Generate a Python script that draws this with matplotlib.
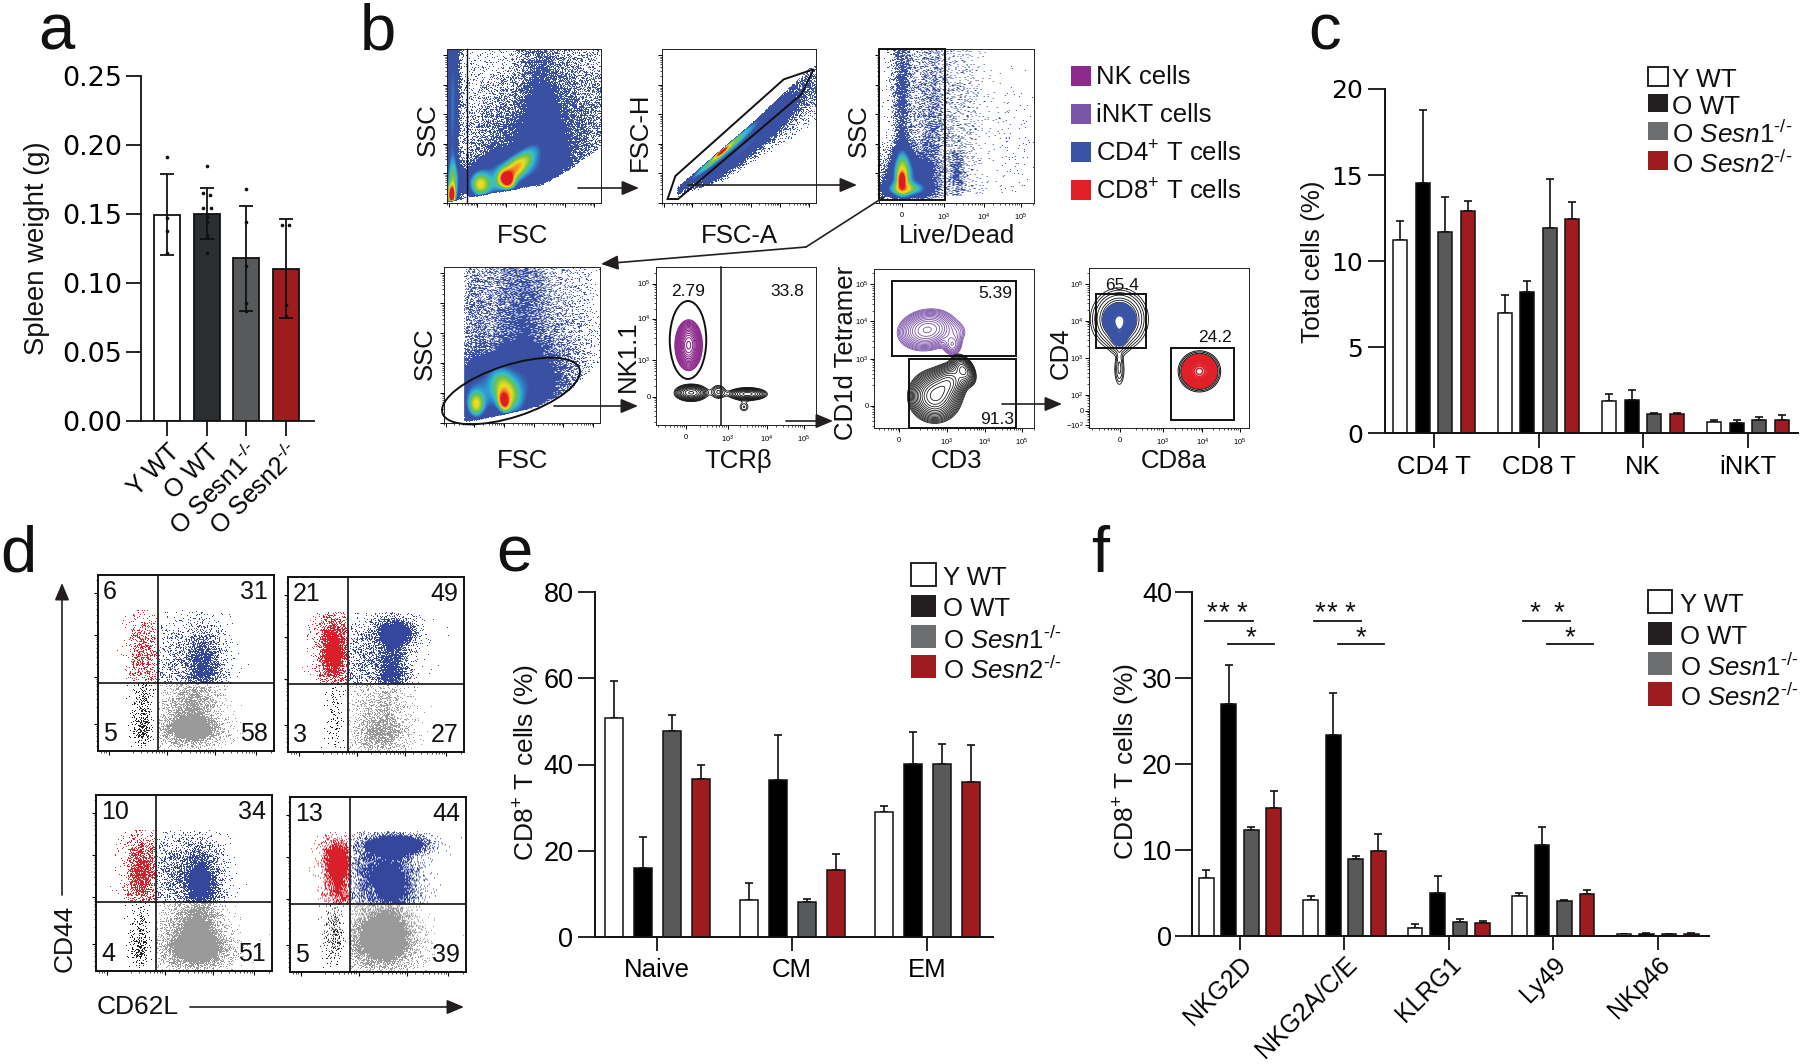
import numpy as np
import matplotlib
matplotlib.use('Agg')
import matplotlib.pyplot as plt
from matplotlib.colors import LinearSegmentedColormap, to_rgb
from matplotlib.patches import Rectangle, Ellipse, Polygon

W, H = 1800, 1064
plt.rcParams['font.family'] = ['Liberation Sans', 'DejaVu Sans']
plt.rcParams['mathtext.fontset'] = 'custom'
plt.rcParams['mathtext.rm'] = 'Liberation Sans'
plt.rcParams['mathtext.it'] = 'Liberation Sans:italic'
plt.rcParams['mathtext.bf'] = 'Liberation Sans:bold'
plt.rcParams['mathtext.default'] = 'regular'

HY = '\u2010'
SUP = '$^{\\mathit{' + HY + '/' + HY + '}}$'

# ---------------- bar data ----------------
GROUP_COLORS = ['#ffffff', '#000000', '#58595b', '#9e1b20']
A_COLORS = ['#ffffff', '#2b2e31', '#58595b', '#9e1b20']
LEGEND_COLORS = ['#ffffff', '#231f20', '#6d6e70', '#9e1b20']

a_labels = ['Y WT', 'O WT', 'O Sesn1' + SUP, 'O Sesn2' + SUP]
a_means = [0.149, 0.150, 0.118, 0.110]
a_err_hi = [0.179, 0.169, 0.156, 0.1465]
a_err_lo = [0.120, 0.132, 0.080, 0.075]
a_pts_group = [0, 0, 0, 0, 1, 1, 1, 1, 1, 1, 1, 1, 1, 1, 2, 2, 2, 2, 2, 3, 3, 3, 3]
a_pts_shift = [0, 0, 0, 0, 0, -.09, .09, -.1, .1, 0, 0, 0, 0, 0, 0, 0, 0, 0, 0, -.1, .08, 0, 0]
a_pts_value = [.191, .147, .138, .122, .185, .165, .1635, .1545, .1545, .148, .1445, .135, .133, .1215,
               .168, .1445, .112, .0855, .0795, .142, .142, .084, .076]

c_cats = ['CD4 T', 'CD8 T', 'NK', 'iNKT']
c_means = [[11.2, 7.0, 1.9, 0.65], [14.55, 8.2, 1.95, 0.6], [11.7, 11.95, 1.1, 0.8], [12.9, 12.45, 1.1, 0.8]]
c_tops = [[12.35, 8.05, 2.3, 0.8], [18.8, 8.85, 2.5, 0.75], [13.75, 14.8, 1.2, 0.95], [13.5, 13.45, 1.2, 1.05]]

e_cats = ['Naive', 'CM', 'EM']
e_means = [[50.7, 8.6, 29.0], [16.0, 36.3, 40.1], [47.8, 8.1, 40.1], [36.6, 15.5, 35.9]]
e_tops = [[59.3, 12.5, 30.4], [23.3, 46.9, 47.6], [51.4, 8.8, 44.8], [39.8, 19.3, 44.5]]

f_cats = ['NKG2D', 'NKG2A/C/E', 'KLRG1', 'Ly49', 'NKp46']
f_means = [[6.7, 4.1, 0.9, 4.65, 0.15], [27.0, 23.3, 5.0, 10.5, 0.25], [12.3, 8.9, 1.6, 4.0, 0.15], [14.9, 9.8, 1.45, 4.8, 0.25]]
f_tops = [[7.6, 4.65, 1.35, 5.0, 0.2], [31.5, 28.2, 7.0, 12.6, 0.3], [12.6, 9.3, 1.95, 4.1, 0.2], [16.8, 11.8, 1.7, 5.3, 0.3]]

legend_it = ['Y WT', 'O WT', 'O $\\mathit{Sesn1}$' + SUP, 'O $\\mathit{Sesn2}$' + SUP]
b_legend = ['NK cells', 'iNKT cells', 'CD4$^{+}$ T cells', 'CD8$^{+}$ T cells']
b_legend_colors = ['#8e2a8e', '#7a55a8', '#3a53a4', '#e01f26']

# ---------------- cytometry density sketches: (u, v, sigma_u, sigma_v, angle, height) ----------------
FSC_SSC = [(.035, .6, .022, .45, 0, .28), (.06, .8, .03, .3, 0, .07), (.03, .05, .015, .04, 0, 1.0), (.04, .14, .03, .1, 0, .35),
           (.215, .115, .045, .055, 0, .55), (.39, .15, .028, .037, 25, .8), (.44, .22, .12, .04, 46, .5),
           (.4, .2, .2, .08, 10, .28), (.6, .75, .09, .35, 0, .09), (.85, .6, .2, .35, 0, .06),
           (.3, .5, .12, .35, 0, .03), (.55, .4, .25, .2, 0, .09)]
FSC_SSC_FLOOR = [(0, 0), (.15, .03), (.3, .06), (.63, .115), (.8, .21), (1, .36)]
FSC_H = [(.38, .32, .2, .018, 41, .55), (.39, .335, .035, .008, 41, .6), (.72, .6, .3, .1, 40, .13), (.5, .33, .25, .04, 40, .24)]
FSC_H_FLOOR = [(.1, .02), (.125, .05), (.42, .147), (.66, .3), (1, .516)]
FSC_H_CEIL = [(0, .03), (.125, .126), (.603, .538), (.976, .896), (1, .9)]
LIVE_DEAD = [(.15, .7, .04, .4, 0, .12), (.148, .147, .014, .03, 0, .85), (.15, .2, .035, .1, 0, .45), (.17, .09, .09, .03, 0, .4),
             (.18, .17, .1, .1, 0, .25), (.34, .5, .07, .45, 0, .08), (.5, .2, .03, .1, 0, .09),
             (.55, .5, .07, .4, 0, .025), (.85, .35, .1, .25, 0, .006)]
LIVE_DEAD_FLOOR = [(0, .02), (.05, .025), (.3, .02), (.45, .04), (1, .08)]
SSC_GATED = [(.2, .7, .07, .35, 0, .07), (.52, .7, .1, .4, 0, .11), (.36, .7, .05, .4, 0, .05), (.8, .6, .1, .35, 0, .035),
             (.383, .138, .022, .038, 10, .75), (.4, .2, .05, .09, 25, .4), (.204, .117, .035, .055, 0, .5),
             (.3, .2, .2, .13, 0, .28), (.55, .3, .2, .15, 0, .1)]
SSC_GATED_FLOOR = [(.13, 0), (.3, .03), (.6, .1), (.8, .2), (1, .4)]

NK_PURPLE = [(.204, .505, .04, .075, 0, 1)]
NK_BLACK = [(.22, .204, .05, .026, 0, 1), (.572, .196, .06, .02, 0, .85), (.55, .115, .025, .025, 0, .16), (.39, .21, .03, .03, 0, .25)]
TET_PURPLE = [(.333, .617, .08, .055, 10, 1), (.49, .523, .03, .035, 0, .3), (.52, .6, .04, .04, 0, .1)]
TET_BLACK = [(.38, .2, .07, .07, 35, 1), (.56, .366, .03, .05, 30, .5), (.47, .29, .06, .05, 45, .6)]
CD4_BLUE = [(.19, .677, .05, .05, 0, 1), (.19, .6, .03, .05, 0, .5)]
CD4_BLACK = [(.19, .68, .065, .07, 0, 1), (.19, .58, .03, .05, 0, .4), (.19, .365, .016, .05, 0, .1), (.19, .45, .01, .07, 0, .04)]
CD8_RED = [(.69, .354, .062, .06, 0, 1)]

# panel d: stipple clouds per quadrant
D1 = dict(red=[(.26, .55, .05, .14, 0, .5)],
          blue=[(.60, .48, .07, .14, 0, .85), (.44, .5, .1, .13, 0, .25)],
          gray=[(.54, .12, .1, .05, 0, 1.3), (.55, .27, .08, .1, 0, .7), (.42, .2, .1, .12, 0, .2)],
          black=[(.255, .12, .03, .05, 0, .5), (.255, .28, .03, .1, 0, .35)])
D2 = dict(red=[(.26, .58, .055, .13, 0, 1.2)],
          blue=[(.61, .68, .07, .05, 0, 1.5), (.59, .45, .06, .13, 0, .9), (.42, .52, .12, .13, 0, .35)],
          gray=[(.535, .09, .09, .06, 0, .6), (.55, .25, .08, .12, 0, .4), (.42, .18, .1, .12, 0, .12)],
          black=[(.27, .2, .03, .16, 0, .13)])
D3 = dict(red=[(.26, .56, .055, .13, 0, .9)],
          blue=[(.6, .5, .07, .13, 0, 1.1), (.44, .55, .1, .13, 0, .4)],
          gray=[(.58, .12, .1, .06, 0, 1.6), (.58, .27, .08, .1, 0, 1.0), (.42, .2, .1, .12, 0, .25)],
          black=[(.25, .12, .03, .05, 0, .45), (.25, .26, .03, .1, 0, .2)])
D4 = dict(red=[(.27, .64, .05, .07, 0, 1.5), (.28, .47, .05, .1, 0, .8)],
          blue=[(.62, .72, .09, .03, 0, 2.5), (.6, .5, .08, .14, 0, 1.1), (.46, .55, .08, .15, 0, .7), (.55, .72, .08, .03, 0, .8)],
          gray=[(.55, .17, .1, .09, 0, 1.5), (.55, .3, .08, .08, 0, .7), (.4, .2, .08, .13, 0, .4)],
          black=[(.25, .22, .03, .1, 0, .4)])
D_LABELS = [['6', '31', '5', '58'], ['21', '49', '3', '27'], ['10', '34', '4', '51'], ['13', '44', '5', '39']]

# ---------------- helpers ----------------
fig = plt.figure(figsize=(W / 100, H / 100), dpi=100, facecolor='white')


def px_axes(x0, y0, x1, y1, **kw):
    return fig.add_axes([x0 / W, 1 - y1 / H, (x1 - x0) / W, (y1 - y0) / H], **kw)


ov = fig.add_axes([0, 0, 1, 1], facecolor='none')
ov.set_xlim(0, W)
ov.set_ylim(H, 0)
ov.axis('off')
ov.set_zorder(10)


def txt(x, y, s, size=18.5, rot=0, ha='center', va='center', **kw):
    ov.text(x, y, s, fontsize=size, rotation=rot, ha=ha, va=va, color=kw.pop('color', '#111111'), **kw)


def arrow(pts, lw=1.2, head=True):
    xs, ys = zip(*pts)
    if len(pts) > 2:
        ov.plot(xs[:-1], ys[:-1], color='#231f20', lw=lw, solid_capstyle='round')
    ov.annotate('', xy=pts[-1], xytext=pts[-2],
                arrowprops=dict(arrowstyle='-|>,head_width=0.4,head_length=0.95', color='#231f20', lw=lw,
                                shrinkA=0, shrinkB=0, mutation_scale=11))


def field(blobs, u, v):
    d = np.zeros_like(u)
    for cx, cy, sx, sy, ang, amp in blobs:
        t = np.deg2rad(ang)
        a = (u - cx) * np.cos(t) + (v - cy) * np.sin(t)
        b = -(u - cx) * np.sin(t) + (v - cy) * np.cos(t)
        d += amp * np.exp(-.5 * (a ** 2 / sx ** 2 + b ** 2 / sy ** 2))
    return d


def grid(nx, ny):
    ix, iy = np.meshgrid(np.arange(nx), np.arange(ny))
    u = (ix + .5) / nx
    v = (iy + .5) / ny
    # fixed per-pixel threshold texture for stippling the hand-read densities above
    n = (np.sin(ix * 12.9898 + iy * 78.233) * 43758.5453) % 1
    return u, v, n


PSEUDO = LinearSegmentedColormap.from_list('pseudo', [(0, '#3a50a3'), (.28, '#3a50a3'), (.36, '#2f8fd0'), (.44, '#35c0c8'),
                                                      (.54, '#6cc04a'), (.72, '#f0e020'), (.86, '#f58020'), (1, '#e01b24')])


def flow_axes(box, xmaj, ymaj, xlab=None, ylab=None):
    ax = px_axes(*box)
    ax.set_xlim(0, 1)
    ax.set_ylim(0, 1)
    for s in ax.spines.values():
        s.set_linewidth(.7)
        s.set_color('#222222')
    minors_x, minors_y = [], []
    for maj, out in ((xmaj, minors_x), (ymaj, minors_y)):
        m = np.array(maj)
        step = np.median(np.diff(m)) if len(m) > 1 else .2
        for base in np.append(m, m[-1] + step):
            out.extend(base - step + np.log10(np.arange(2, 10)) * step)
    minors_x = [t for t in minors_x if 0 < t < 1]
    minors_y = [t for t in minors_y if 0 < t < 1]
    ax.set_xticks(xmaj)
    ax.set_yticks(ymaj)
    ax.set_xticks(minors_x, minor=True)
    ax.set_yticks(minors_y, minor=True)
    ax.tick_params(which='major', length=3, width=.7, labelsize=5.5, pad=3.5)
    ax.tick_params(which='minor', length=1.6, width=.5)
    ax.set_xticklabels(xlab if xlab else [''] * len(xmaj))
    ax.set_yticklabels(ylab if ylab else [''] * len(ymaj))
    ax.tick_params(axis='y', pad=1)
    return ax


def pseudo(box, blobs, floor=None, ceil=None, left=0, xmaj=(), ymaj=(), xlab=None, ylab=None):
    ax = flow_axes(box, list(xmaj), list(ymaj), xlab, ylab)
    nx, ny = int(box[2] - box[0]), int(box[3] - box[1])
    u, v, n = grid(nx, ny)
    d = field(blobs, u, v)
    if floor:
        fx, fy = zip(*floor)
        d = d * np.clip((v - np.interp(u, fx, fy)) / .012, 0, 1)
    if ceil:
        fx, fy = zip(*ceil)
        d = d * np.clip((np.interp(u, fx, fy) - v) / .008, 0, 1)
    d = d * (u > left)
    thr = .13
    on = d >= n * thr
    rgb = PSEUDO(np.clip(d, 0, 1))[..., :3]
    rgb[~on] = 1
    ax.imshow(rgb, extent=[0, 1, 0, 1], origin='lower', aspect='auto', interpolation='bilinear')
    return ax


def contours(ax, blobs, color, levels, lw=.6):
    u, v = np.meshgrid(np.linspace(0, 1, 400), np.linspace(0, 1, 400))
    ax.contour(u, v, field(blobs, u, v), levels=levels, colors=color, linewidths=lw)


MAJ_BIO = [.01, .195, .385, .575, .765, .955]
MAJ_Y = [.0, .192, .384, .576, .768, .96]
# ---------------- panel b ----------------
pseudo((447, 49, 601, 203), FSC_SSC, FSC_SSC_FLOOR, xmaj=MAJ_BIO, ymaj=MAJ_Y)
pseudo((662, 49, 816, 203), FSC_H, FSC_H_FLOOR, FSC_H_CEIL, left=.1, xmaj=MAJ_BIO, ymaj=MAJ_Y)
pseudo((879, 49, 1033.5, 203), LIVE_DEAD, LIVE_DEAD_FLOOR, xmaj=[.15, .42, .68, .92], ymaj=MAJ_Y,
       xlab=['0', '$10^3$', '$10^4$', '$10^5$'])
pseudo((444, 267, 600, 423), SSC_GATED, SSC_GATED_FLOOR, left=.13, xmaj=MAJ_BIO, ymaj=MAJ_Y)

LOG_T = ['0', '$10^3$', '$10^4$', '$10^5$']
ax5 = flow_axes((656, 267, 816, 425), [.186, .449, .695, .923], [.18, .41, .674, .895], LOG_T, LOG_T)
contours(ax5, NK_PURPLE, '#8e2d8e', np.geomspace(.1, .95, 16), .8)
contours(ax5, NK_BLACK, '#111111', np.geomspace(.1, .95, 11), .6)
ax6 = flow_axes((874, 269, 1034, 428), [.158, .456, .695, .925], [.14, .436, .674, .904], LOG_T, LOG_T)
contours(ax6, TET_PURPLE, '#7b52a8', np.geomspace(.06, .95, 14), .6)
contours(ax6, TET_BLACK, '#111111', np.geomspace(.05, .95, 16), .55)
ax6.plot([.40], [.2], 'o', color='white', ms=2, mec='none')
ax7 = flow_axes((1089, 268, 1249, 428), [.193, .463, .709, .944], [.017, .108, .208, .4375, .67, .9],
                LOG_T, ['$-10^2$', '0', '$10^2$', '$10^3$', '$10^4$', '$10^5$'])
contours(ax7, CD4_BLACK, '#111111', [.02, .035, .06, .1, .17, .24, .32], .6)
contours(ax7, CD4_BLUE, '#3a53a4', np.geomspace(.12, .95, 24), 1.1)
ax7.plot([.19], [.677], 'o', color='white', ms=2, mec='none')
contours(ax7, CD8_RED, '#111111', [.1, .13, .17, .2], .7)
contours(ax7, CD8_RED, '#e01f26', np.geomspace(.22, .95, 18), 1.1)
ax7.plot([.69], [.354], 'o', color='white', ms=2, mec='none')

gate = dict(fill=False, ec='#111111', lw=1.4)
ov.plot([466.5, 466.5], [49, 203], color='#111', lw=1)
ov.add_patch(Polygon([(667.6, 199), (675.4, 176), (783.8, 79.3), (813.6, 69.3), (801.7, 94), (678.2, 199)], closed=True, **gate))
ov.add_patch(Rectangle((879, 49), 66.4, 151, **gate))
ov.add_patch(Ellipse((511, 391), 144, 52, angle=-18, **gate))
ov.plot([721, 721], [267, 425], color='#111', lw=1.1)
ov.add_patch(Ellipse((688, 340), 36.5, 78, **gate))
ov.add_patch(Rectangle((892, 280.7), 124, 75.3, **gate))
ov.add_patch(Rectangle((909, 359), 107, 69, **gate))
ov.add_patch(Rectangle((1096, 294), 50, 54, **gate))
ov.add_patch(Rectangle((1171, 348), 63, 72, **gate))

for (x, y, s, r) in [(428, 130, 'SSC', 90), (523, 236, 'FSC', 0), (640, 132, 'FSC-H', 90), (739, 236, 'FSC-A', 0),
                     (859, 131, 'SSC', 90), (957, 236, 'Live/Dead', 0), (425, 354, 'SSC', 90), (523, 461, 'FSC', 0),
                     (628, 356, 'NK1.1', 90), (738, 461, 'TCRβ', 0), (846, 353, 'CD1d Tetramer', 90), (957, 461, 'CD3', 0),
                     (1061, 353, 'CD4', 90), (1174, 461, 'CD8a', 0)]:
    txt(x, y, s, 18.5, r)
for (x, y, s) in [(688, 291, '2.79'), (787, 291, '33.8'), (995, 293, '5.39'), (997, 420, '91.3'), (1122, 285, '65.4'), (1215, 337, '24.2')]:
    txt(x, y, s, 12.5)
arrow([(578, 188), (639, 188)])
arrow([(688, 185), (857, 185)])
arrow([(884, 197), (806, 247), (601, 264)])
arrow([(554, 406), (638, 406)])
arrow([(786, 421), (833, 421)])
arrow([(1002, 404), (1062, 404)])
for i, (s, c) in enumerate(zip(b_legend, b_legend_colors)):
    y = 66 + i * 38
    ov.add_patch(Rectangle((1071, y), 20, 19.5, fc=c, ec='none'))
    txt(1096, y + 11.5, s, 18.5, ha='left')


# ---------------- bar panels ----------------
def style_bar_axes(ax, lw=1.4):
    ax.spines['top'].set_visible(False)
    ax.spines['right'].set_visible(False)
    ax.spines['left'].set_linewidth(lw)
    ax.spines['bottom'].set_linewidth(lw)
    ax.spines['left'].set_color('#111')
    ax.spines['bottom'].set_color('#111')


def group_bars(box, first_tick_px, spacing_px, bar_step_px, bar_w_px, means, tops, cats, yticks, ylim, ylen, xlen, tick_font, tick_pad, cap=3.):
    ax = px_axes(*box)
    ax.set_xlim((box[0] - first_tick_px) / spacing_px, (box[2] - first_tick_px) / spacing_px)
    ax.set_ylim(*ylim)
    for i, (m, t, c) in enumerate(zip(means, tops, GROUP_COLORS)):
        x = np.arange(len(cats)) + (i - 1.5) * bar_step_px / spacing_px
        m, t = np.array(m), np.array(t)
        ax.errorbar(x, m, yerr=[np.zeros_like(m), t - m], fmt='none', ecolor='#111', elinewidth=1.2, capsize=cap, capthick=1.2, zorder=1)
        ax.bar(x, m, width=bar_w_px / spacing_px, color=c, edgecolor='#111', linewidth=1.1, zorder=2)
    ax.set_xticks(range(len(cats)))
    ax.set_xticklabels(cats)
    ax.set_yticks(yticks)
    ax.tick_params(axis='y', length=ylen, width=1.2, labelsize=tick_font[1], pad=tick_pad, labelfontfamily=tick_font[0])
    ax.tick_params(axis='x', length=xlen, width=1.2, labelsize=18.5, pad=5)
    style_bar_axes(ax)
    return ax


def legend_block(x0, x1, ys, xt, labels, size=18.8):
    for (y0, y1), s, c in zip(ys, labels, LEGEND_COLORS):
        ov.add_patch(Rectangle((x0, y0), x1 - x0, y1 - y0, fc=c, ec='#111' if c == '#ffffff' else 'none', lw=1.3))
        txt(xt, (y0 + y1) / 2 + 1, s, size, ha='left', va='center_baseline')


# panel a
axa = px_axes(141, 76, 314, 421)
sa = (286 - 167) / 3
axa.set_xlim((141 - 167) / sa, (314 - 167) / sa)
axa.set_ylim(0, .25)
xa = np.arange(4)
axa.bar(xa, a_means, width=26 / sa, color=A_COLORS, edgecolor='#111', linewidth=1.3, zorder=1)
axa.errorbar(xa, a_means, yerr=[np.array(a_means) - a_err_lo, np.array(a_err_hi) - a_means], fmt='none', ecolor='#111',
             elinewidth=1.3, capsize=5, capthick=1.3, zorder=2)
axa.scatter(np.array(a_pts_group) + a_pts_shift, a_pts_value, s=7, color='#111', zorder=3, linewidths=0)
axa.set_xticks(xa)
axa.set_xticklabels(a_labels, rotation=45, ha='right', rotation_mode='anchor', fontsize=18)
axa.set_yticks([0, .05, .10, .15, .20, .25])
axa.set_yticklabels(['0.00', '0.05', '0.10', '0.15', '0.20', '0.25'], family='DejaVu Sans', fontsize=19.5)
axa.tick_params(axis='y', length=10.6, width=1.2, pad=3)
axa.tick_params(axis='x', length=10.6, width=1.2, pad=3)
style_bar_axes(axa, 1.3)
txt(37, 248, 'Spleen weight (g)', 19.8, 90)

# panel c
group_bars((1385, 89, 1798, 433.3), 1434, 104.6, 22.5, 14, c_means, c_tops, c_cats, [0, 5, 10, 15, 20], (0, 20), 12, 10.8, ('DejaVu Sans', 18), 4)
txt(1313, 262, 'Total cells (%)', 18.8, 90)
legend_block(1648, 1668, [(67, 86), (94, 112), (122, 140), (151, 170)], 1672, legend_it)

# panel e
group_bars((595, 592, 993, 937), 657, 135, 29, 18, e_means, e_tops, e_cats, [0, 20, 40, 60, 80], (0, 80), 12, 10, ('Liberation Sans', 19.5), 3.5)
txt(527, 763, 'CD8$^{+}$ T cells (%)', 19, 90)
legend_block(911, 936, [(563, 586), (595, 617), (625, 648), (655, 678)], 943, legend_it, 18.5)

# panel f
axf = group_bars((1191.6, 591.7, 1709, 935.7), 1240, 104.4, 22.5, 14.7, f_means, f_tops, f_cats, [0, 10, 20, 30, 40], (0, 40), 12.5, 10, ('Liberation Sans', 19.5), 1.5)
axf.set_xticklabels(f_cats, rotation=45, ha='right', rotation_mode='anchor', fontsize=17.8)
axf.tick_params(axis='x', pad=2)
txt(1127, 762, 'CD8$^{+}$ T cells (%)', 19, 90)
legend_block(1648, 1672, [(590, 613), (622, 645), (652, 675), (682, 706)], 1680.5, legend_it, 18.5)
for x0, x1, y in [(1205, 1253, 621), (1228, 1274, 644), (1314, 1361, 621), (1338, 1384, 644), (1523, 1570, 621), (1547, 1593, 644)]:
    ov.plot([x0, x1], [y, y], color='#111', lw=1.3)
for x, y in [(1212, 613), (1224, 613), (1242, 613), (1320, 613), (1332, 613), (1350, 613), (1534.5, 613), (1559, 613), (1251, 638), (1361, 638), (1570, 638)]:
    txt(x, y, '*', 20)

# ---------------- panel d ----------------
D_BOX = [(98, 575, 274, 751), (288, 577, 464, 752), (96, 795, 272, 971), (290, 797, 466, 972)]
D_CROSS = [(158, 683), (348, 684), (156, 902), (350, 904)]
D_SETS = [D1, D2, D3, D4]
CLOUD = dict(red='#d9202a', blue='#35479c', gray='#9a9a9a', black='#222222')
for box, cross, dset, labs in zip(D_BOX, D_CROSS, D_SETS, D_LABELS):
    ax = flow_axes(box, [.06, .39, .665, .90], [.155, .42, .66, .9])
    ax.tick_params(which='major', length=3, width=.8)
    for s in ax.spines.values():
        s.set_linewidth(1.4)
        s.set_color('#111')
    nx, ny = int(box[2] - box[0]), int(box[3] - box[1])
    u, v, n = grid(nx, ny)
    uv = (cross[0] - box[0]) / (box[2] - box[0])
    vh = (box[3] - cross[1]) / (box[3] - box[1])
    rgb = np.ones((ny, nx, 3))
    masks = dict(red=(u < uv - .005) & (v > vh) & (v < .8), blue=(u > uv) & (v > vh) & (v < .8),
                 gray=(u > uv) & (v <= vh), black=(u < uv - .005) & (v <= vh))
    for name in ['gray', 'black', 'blue', 'red']:
        d = field(dset[name], u, v)
        on = (d > n) & masks[name]
        rgb[on] = to_rgb(CLOUD[name])
    ax.imshow(rgb, extent=[0, 1, 0, 1], origin='lower', aspect='auto', interpolation='bilinear')
    ov.plot([cross[0], cross[0]], [box[1], box[3]], color='#111', lw=1.2)
    ov.plot([box[0], box[2]], [cross[1], cross[1]], color='#111', lw=1.2)
    txt(box[0] + 5, box[1] + 17, labs[0], 18, ha='left')
    txt(box[2] - 6, box[1] + 17, labs[1], 18, ha='right')
    txt(box[0] + 5, box[3] - 17, labs[2], 18, ha='left')
    txt(box[2] - 6, box[3] - 17, labs[3], 18, ha='right')
arrow([(62, 895), (62, 583)])
arrow([(190, 1007), (464, 1007)])
txt(65, 938, 'CD44', 19, 90)
txt(137.5, 1007, 'CD62L', 19)

# ---------------- panel letters ----------------
for x, y, s in [(38, 50, 'a'), (360, 50, 'b'), (1308, 50, 'c'), (0, 572, 'd'), (496, 572, 'e'), (1091, 572, 'f')]:
    ov.text(x, y, s, fontsize=47, ha='left', va='baseline', color='#111')

fig.savefig('out.png', dpi=100, facecolor='white')
